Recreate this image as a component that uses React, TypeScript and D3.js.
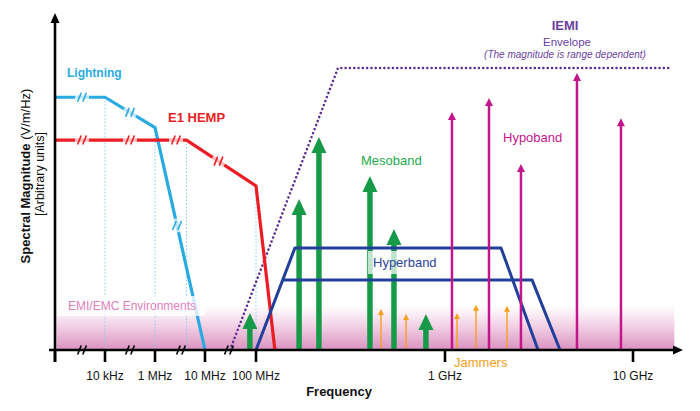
import React from "react";
import * as d3 from "d3";

// Axis units: 0 = origin, 1 = 10 kHz, 2 = 1 MHz, 3 = 10 MHz, 4 = 100 MHz, 5 = 1 GHz, 6 = 10 GHz
const axisUnits = [0, 1, 2, 3, 4, 5, 6, 7];
const tickUnits = [0, 1, 2, 3, 4, 5, 6];
const tickLabels = ["", "10 kHz", "1 MHz", "10 MHz", "100 MHz", "1 GHz", "10 GHz"];
const axisBreakUnits = [0.54, 1.5, 2.52, 3.47];

const lightningU = [0, 1, 2, 3];
const lightningV = [75, 75, 66, 0];
const lightningBreaks = [
  { seg: 0, t: 0.54 },
  { seg: 1, t: 0.5 },
  { seg: 2, t: 0.44 },
];

const hempU = [0, 2.63, 4.0, 4.1];
const hempV = [62.3, 62.3, 48.7, 0];
const hempBreaks = [
  { seg: 0, t: 0.205 },
  { seg: 0, t: 0.57 },
  { seg: 0, t: 0.92 },
  { seg: 1, t: 0.46 },
];

const guideU = [1, 2, 2.63, 4.0];
const guideV = [75, 66, 62.3, 48.7];

const iemiU = [3.49, 4.434, 6.2];
const iemiV = [0, 83.7, 83.7];

const mesoU = [3.88, 4.228, 4.333, 4.603, 4.73, 4.899];
const mesoV = [11, 44.8, 63.2, 51.6, 35.9, 10.7];

const hyperUpperU = [4.0, 4.206, 5.298, 5.495];
const hyperUpperV = [0, 30.3, 30.3, 0];
const hyperLowerU = [4.141, 5.463, 5.612];
const hyperLowerV = [20.8, 20.8, 0];

const hypoU = [5.037, 5.234, 5.404, 5.702, 5.936];
const hypoV = [70.6, 74.8, 55.2, 82.2, 68.8];

const jammerU = [4.661, 4.794, 5.064, 5.165, 5.33];
const jammerV = [12.2, 10.7, 11, 13.4, 13.1];

const emiBandU = [0.03, 6.22];
const emiBandTopV = 13.4;

const FONT = "'Liberation Sans', Arial, Helvetica, sans-serif";

const C = {
  lightning: "#29abe2",
  hemp: "#ec1c24",
  iemi: "#5c2d91",
  iemiText: "#6b3fa0",
  green: "#169a48",
  greenText: "#1daa4c",
  blue: "#22409a",
  blueText: "#2e4399",
  magenta: "#c4168c",
  orange: "#f6a01a",
  guide: "#7fcdee",
};

export default function App() {
  const x = d3.scaleLinear().domain(axisUnits).range([55, 105, 155, 205, 256, 445, 633, 821]);
  const y = d3.scaleLinear().domain([0, 100]).range([350, 13]);
  const baseY = y(0);

  const line = d3
    .line<[number, number]>()
    .x((d) => x(d[0]))
    .y((d) => y(d[1]));

  const pts = (us: number[], vs: number[]) => us.map((u, i) => [u, vs[i]] as [number, number]);

  const renderBreaks = (us: number[], vs: number[], brs: { seg: number; t: number }[], color: string, w: number, key: string) =>
    brs.map((b, i) => {
      const x1 = x(us[b.seg]), y1 = y(vs[b.seg]);
      const x2 = x(us[b.seg + 1]), y2 = y(vs[b.seg + 1]);
      const px = x1 + (x2 - x1) * b.t;
      const py = y1 + (y2 - y1) * b.t;
      const len = Math.hypot(x2 - x1, y2 - y1);
      const dx = (x2 - x1) / len, dy = (y2 - y1) / len;
      return (
        <g key={key + i}>
          <line x1={px - dx * 7} y1={py - dy * 7} x2={px + dx * 7} y2={py + dy * 7} stroke="#fff" strokeOpacity={0.7} strokeWidth={w + 0.6} />
          {[-2.6, 2.6].map((o, j) => (
            <line key={j} x1={px + o - 1.8} y1={py + 4.5} x2={px + o + 1.8} y2={py - 4.5} stroke={color} strokeWidth={1.6} />
          ))}
        </g>
      );
    });

  const arrow = (u: number, v: number, color: string, shaftW: number, headW: number, headH: number, key: string) => {
    const cx = x(u);
    const tip = y(v);
    return (
      <g key={key}>
        <line x1={cx} y1={baseY - 1} x2={cx} y2={tip + headH - 1} stroke={color} strokeWidth={shaftW} />
        <path d={`M${cx},${tip}L${cx + headW / 2},${tip + headH}L${cx - headW / 2},${tip + headH}Z`} fill={color} />
      </g>
    );
  };

  return (
    <svg width={700} height={411} viewBox="0 0 700 411" style={{ position: "absolute", left: 0, top: 0, background: "#fff" }} fontFamily={FONT}>
      <defs>
        <linearGradient id="emiGrad" x1="0" y1="0" x2="0" y2="1">
          <stop offset="0" stopColor="#ffffff" />
          <stop offset="0.2" stopColor="#fbeef6" />
          <stop offset="0.5" stopColor="#f1cde3" />
          <stop offset="0.8" stopColor="#e3a9cd" />
          <stop offset="1" stopColor="#d993c2" />
        </linearGradient>
      </defs>

      {/* EMI/EMC band */}
      <rect x={x(emiBandU[0])} y={y(emiBandTopV)} width={x(emiBandU[1]) - x(emiBandU[0])} height={baseY - y(emiBandTopV)} fill="url(#emiGrad)" />

      {/* guide verticals */}
      {guideU.map((u, i) => (
        <line key={"g" + i} x1={x(u)} x2={x(u)} y1={y(guideV[i])} y2={baseY} stroke={C.guide} strokeWidth={1} strokeDasharray="1.5 2" />
      ))}

      {/* IEMI envelope */}
      <path d={line(pts(iemiU, iemiV)) || ""} fill="none" stroke={C.iemi} strokeWidth={2.5} strokeDasharray="0.1 4.2" strokeLinecap="round" />

      {/* Lightning */}
      <path d={line(pts(lightningU, lightningV)) || ""} fill="none" stroke={C.lightning} strokeWidth={3.2} />
      {renderBreaks(lightningU, lightningV, lightningBreaks, C.lightning, 3.2, "lb")}

      {/* E1 HEMP */}
      <path d={line(pts(hempU, hempV)) || ""} fill="none" stroke={C.hemp} strokeWidth={3.2} />
      {renderBreaks(hempU, hempV, hempBreaks, C.hemp, 3.2, "hb")}

      {/* Mesoband arrows */}
      {mesoU.map((u, i) => arrow(u, mesoV[i], C.green, 5.5, 15, 16, "m" + i))}

      {/* Hyperband label backdrop */}
      <rect x={368} y={251} width={74} height={23} fill="#fff" fillOpacity={0.72} />

      {/* Hyperband */}
      <path d={line(pts(hyperUpperU, hyperUpperV)) || ""} fill="none" stroke={C.blue} strokeWidth={3} strokeLinejoin="round" />
      <path d={line(pts(hyperLowerU, hyperLowerV)) || ""} fill="none" stroke={C.blue} strokeWidth={3} strokeLinejoin="round" />

      {/* Hypoband arrows */}
      {hypoU.map((u, i) => arrow(u, hypoV[i], C.magenta, 2.5, 8, 8, "h" + i))}

      {/* Jammers */}
      {jammerU.map((u, i) => arrow(u, jammerV[i], C.orange, 1.4, 6, 6, "j" + i))}

      {/* EMI label backdrop */}
      <rect x={57} y={296} width={148} height={20} fill="#fff" fillOpacity={0.78} />
      <text x={68} y={310} fontSize={12} fill="#e07fbd">EMI/EMC Environments</text>

      {/* Axes */}
      <line x1={x(0)} x2={x(0)} y1={baseY + 12} y2={22} stroke="#000" strokeWidth={2.6} />
      <path d={`M${x(0)},13L${x(0) + 4.5},23L${x(0) - 4.5},23Z`} fill="#000" />
      <line x1={49} x2={675} y1={baseY} y2={baseY} stroke="#000" strokeWidth={2.6} />
      <path d={`M683,${baseY}L673,${baseY - 4.5}L673,${baseY + 4.5}Z`} fill="#000" />
      {tickUnits.map((u, i) => (
        <g key={"t" + i}>
          <line x1={x(u)} x2={x(u)} y1={baseY} y2={baseY + 12} stroke="#000" strokeWidth={2.6} />
          <text x={x(u)} y={380} fontSize={12} textAnchor="middle" fill="#111">{tickLabels[i]}</text>
        </g>
      ))}
      {axisBreakUnits.map((u, i) => (
        <g key={"ab" + i}>
          {[-2.6, 2.6].map((o, j) => (
            <line key={j} x1={x(u) + o - 1.8} y1={baseY + 4.5} x2={x(u) + o + 1.8} y2={baseY - 4.5} stroke="#000" strokeWidth={1.6} />
          ))}
        </g>
      ))}

      <text x={339} y={396} fontSize={13} fontWeight="bold" textAnchor="middle" fill="#111">Frequency</text>

      <text transform="translate(30,176) rotate(-90)" fontSize={13} textAnchor="middle" fill="#111">
        <tspan fontWeight="bold">Spectral Magnitude</tspan>
        <tspan>{"  (V/m/Hz)"}</tspan>
      </text>
      <text transform="translate(44,174) rotate(-90)" fontSize={12.5} textAnchor="middle" fill="#111">[Arbitrary units]</text>

      {/* Labels */}
      <text x={67} y={77} fontSize={12} fontWeight="bold" fill={C.lightning}>Lightning</text>
      <text x={168} y={122} fontSize={13} fontWeight="bold" fill={C.hemp}>E1 HEMP</text>
      <text x={361} y={165} fontSize={13} fill={C.greenText}>Mesoband</text>
      <text x={503} y={141.5} fontSize={13} fill={C.magenta}>Hypoband</text>
      <text x={373} y={266.5} fontSize={13} fill={C.blueText}>Hyperband</text>
      <text x={454} y={367} fontSize={13} fill={C.orange}>Jammers</text>
      <text x={565} y={30} fontSize={13} fontWeight="bold" textAnchor="middle" fill={C.iemiText}>IEMI</text>
      <text x={567} y={46} fontSize={11.5} textAnchor="middle" fill={C.iemiText}>Envelope</text>
      <text x={565} y={58} fontSize={10} fontStyle="italic" textAnchor="middle" fill={C.iemiText}>(The magnitude is range dependent)</text>
    </svg>
  );
}
